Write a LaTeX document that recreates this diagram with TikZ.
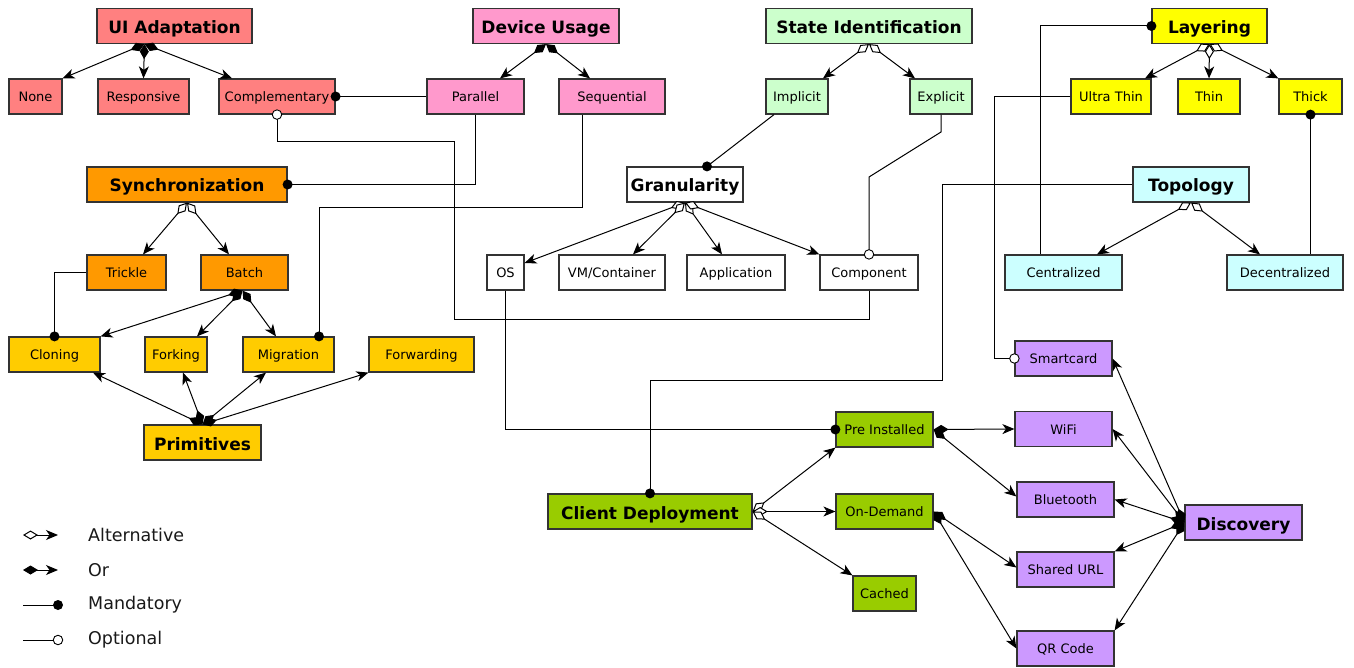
\documentclass[tikz,border=0pt]{standalone}
\usepackage{fontspec}
\setmainfont{DejaVu Sans}
\usetikzlibrary{arrows.meta,calc}
\definecolor{cUI}{HTML}{FF8080}
\definecolor{cDU}{HTML}{FF99CC}
\definecolor{cSI}{HTML}{CCFFCC}
\definecolor{cLY}{HTML}{FFFF00}
\definecolor{cSY}{HTML}{FF9900}
\definecolor{cPR}{HTML}{FFCC00}
\definecolor{cTP}{HTML}{CCFFFF}
\definecolor{cDS}{HTML}{CC99FF}
\definecolor{cCD}{HTML}{99CC00}
\begin{document}
\begin{tikzpicture}[x=1pt,y=-1pt,
  box/.style={draw=black!80, line width=1.2pt, inner sep=0pt, minimum height=35pt, text height=11pt, text depth=0.6pt, font=\fontsize{13}{15}\selectfont, text=black},
  head/.style={box, text height=16pt, text depth=1pt, font=\fontsize{17}{20}\selectfont\bfseries},
  conn/.style={line width=1pt, draw=black},
  alt/.style={conn, {Diamond[length=15pt,width=9pt,fill=white]}-{Stealth[length=12pt,width=10pt,inset=3.5pt]}},
  orr/.style={conn, {Diamond[length=15pt,width=9pt]}-{Stealth[length=12pt,width=10pt,inset=3.5pt]}},
  mdot/.style={circle, fill=black, inner sep=0pt, minimum size=10pt},
  odot/.style={circle, draw=black, fill=white, line width=0.9pt, inner sep=0pt, minimum size=9.5pt},
  leg/.style={font=\fontsize{17.5}{20}\selectfont, anchor=west, inner sep=0pt, text=black!90}
]
\fill[white] (0,0) rectangle (1354,668);
\useasboundingbox (0,0) rectangle (1354,668);

% nodes
\node[head, fill=cUI, minimum width=155pt] (ui) at (174.5,26) {UI Adaptation};
\node[box, fill=cUI, minimum width=53pt] (none) at (35.5,96.5) {None};
\node[box, fill=cUI, minimum width=91pt] (resp) at (143.5,96.5) {Responsive};
\node[box, fill=cUI, minimum width=116pt] (compl) at (277,96.5) {Complementary};
\node[head, fill=cDU, minimum width=146pt] (du) at (546,26) {Device Usage};
\node[box, fill=cDU, minimum width=97pt] (par) at (475.5,96.5) {Parallel};
\node[box, fill=cDU, minimum width=106pt] (seq) at (612,96.5) {Sequential};
\node[head, fill=cSI, minimum width=206pt] (si) at (869,26) {State Identification};
\node[box, fill=cSI, minimum width=62pt] (impl) at (797,96.5) {Implicit};
\node[box, fill=cSI, minimum width=62pt] (expl) at (941,96.5) {Explicit};
\node[head, fill=cLY, minimum width=115pt] (lay) at (1209.5,26) {Layering};
\node[box, fill=cLY, minimum width=80pt] (ut) at (1111,96.5) {Ultra Thin};
\node[box, fill=cLY, minimum width=62pt] (thin) at (1209,96.5) {Thin};
\node[box, fill=cLY, minimum width=63pt] (thick) at (1310.5,96.5) {Thick};
\node[head, fill=cSY, minimum width=200pt] (sync) at (187,184.5) {Synchronization};
\node[box, fill=cSY, minimum width=79pt] (trk) at (126.5,272.5) {Trickle};
\node[box, fill=cSY, minimum width=87pt] (batch) at (244.5,272.5) {Batch};
\node[box, fill=cPR, minimum width=91pt] (clon) at (54.5,354.5) {Cloning};
\node[box, fill=cPR, minimum width=62pt] (fork) at (176,354.5) {Forking};
\node[box, fill=cPR, minimum width=91pt] (mig) at (288.5,354.5) {Migration};
\node[box, fill=cPR, minimum width=105pt] (fwd) at (421.5,354.5) {Forwarding};
\node[head, fill=cPR, minimum width=117pt] (prim) at (202.5,442.5) {Primitives};
\node[head, fill=white, minimum width=116pt] (gran) at (685,184.5) {Granularity};
\node[box, fill=white, minimum width=37pt] (os) at (505.5,272.5) {OS};
\node[box, fill=white, minimum width=106pt] (vm) at (612,272.5) {VM/Container};
\node[box, fill=white, minimum width=98pt] (app) at (736,272.5) {Application};
\node[box, fill=white, minimum width=98pt] (compo) at (869,272.5) {Component};
\node[head, fill=cTP, minimum width=116pt] (topo) at (1191,184.5) {Topology};
\node[box, fill=cTP, minimum width=117pt] (cent) at (1063.5,272.5) {Centralized};
\node[box, fill=cTP, minimum width=116pt] (dec) at (1285,272.5) {Decentralized};
\node[box, fill=cDS, minimum width=97pt] (smart) at (1063.5,358.5) {Smartcard};
\node[box, fill=cDS, minimum width=97pt] (wifi) at (1063.5,429) {WiFi};
\node[box, fill=cDS, minimum width=97pt] (blue) at (1065.5,499.5) {Bluetooth};
\node[box, fill=cDS, minimum width=97pt] (surl) at (1065.5,569.5) {Shared URL};
\node[box, fill=cDS, minimum width=97pt] (qr) at (1065.5,648.5) {QR Code};
\node[head, fill=cDS, minimum width=117pt] (disc) at (1243.5,522.5) {Discovery};
\node[box, fill=cCD, minimum width=97pt] (pre) at (884.5,429.5) {Pre Installed};
\node[box, fill=cCD, minimum width=97pt] (od) at (884.5,511.5) {On-Demand};
\node[box, fill=cCD, minimum width=63pt] (cached) at (884.5,593.5) {Cached};
\node[head, fill=cCD, minimum width=204pt] (cd) at (650,511.5) {Client Deployment};

% mandatory / optional links
\draw[conn] (compl.east) node[mdot]{} -- (par.west);
\coordinate (k1) at (454,142);
\coordinate (k2) at (454,319);
\draw[conn] (compl.south) node[odot]{} |- (k1) -- (k2) -| (compo.south);
\draw[conn] (sync.east) node[mdot]{} -| (par.south);
\coordinate (k3) at (319,208);
\draw[conn] ([xshift=-30pt]seq.south) |- (k3) -- ([xshift=30.5pt]mig.north) node[mdot]{};
\draw[conn] ([xshift=-23pt]impl.south) -- ([xshift=22pt]gran.north) node[mdot]{};
\coordinate (k4) at (941,132);
\coordinate (k5) at (869,177);
\draw[conn] (expl.south) -- (k4) -- (k5) -- (compo.north) node[odot]{};
\draw[conn] (os.south) |- (pre.west) node[mdot]{};
\coordinate (k6) at (942,380);
\draw[conn] (topo.west) -| (k6) -| (cd.north) node[mdot]{};
\coordinate (k7) at (994,358.5);
\draw[conn] (ut.west) -| (k7) -- (smart.west) node[odot]{};
\draw[conn] (lay.west) node[mdot]{} -| ([xshift=-23.5pt]cent.north);
\draw[conn] (thick.south) node[mdot]{} -- (thick.south |- dec.north);
\draw[conn] (trk.west) -| (clon.north) node[mdot]{};

% feature groups
\coordinate (uiS) at ([xshift=-30pt]ui.south);
\draw[orr] (uiS) -- (none.north east);
\draw[orr] (uiS) -- (resp.north);
\draw[orr] (uiS) -- ([xshift=-45pt]compl.north);

\draw[orr] (du.south) -- ([xshift=24.5pt]par.north);
\draw[orr] (du.south) -- ([xshift=-22pt]seq.north);

\draw[alt] (si.south) -- ([xshift=26pt]impl.north);
\draw[alt] (si.south) -- ([xshift=-26pt]expl.north);

\draw[alt] (lay.south) -- ([xshift=34pt]ut.north);
\draw[alt] (lay.south) -- (thin.north);
\draw[alt] (lay.south) -- (thick.north west);

\draw[alt] (sync.south) -- ([xshift=16.5pt]trk.north);
\draw[alt] (sync.south) -- ([xshift=-15.5pt]batch.north);

\coordinate (bS) at ([xshift=-2pt]batch.south);
\draw[orr] (bS) -- (clon.north east);
\draw[orr] (bS) -- ([xshift=21pt]fork.north);
\draw[orr] (bS) -- ([xshift=-12.5pt]mig.north);

\draw[orr] (prim.north) -- ([xshift=38.5pt]clon.south);
\draw[orr] (prim.north) -- ([xshift=7pt]fork.south);
\draw[orr] (prim.north) -- ([xshift=-22.5pt]mig.south);
\draw[orr] (prim.north) -- (fwd.south west);

\draw[alt] (gran.south) -- ([yshift=9.5pt]os.east);
\draw[alt] (gran.south) -- ([xshift=21pt]vm.north);
\draw[alt] (gran.south) -- ([xshift=-14pt]app.north);
\draw[alt] (gran.south) -- (compo.north west);

\draw[alt] (topo.south) -- ([xshift=33.5pt]cent.north);
\draw[alt] (topo.south) -- ([xshift=-25pt]dec.north);

\draw[alt] (cd.east) -- (pre.south west);
\draw[alt] (cd.east) -- (od.west);
\draw[alt] (cd.east) -- (cached.north west);

\draw[orr] (pre.east) -- (wifi.west);
\draw[orr] (pre.east) -- ([yshift=3pt]blue.west);
\draw[orr] (od.east) -- ([yshift=2pt]surl.west);
\draw[orr] (od.east) -- (qr.west);

\draw[orr] (disc.west) -- (smart.east);
\draw[orr] (disc.west) -- (wifi.east);
\draw[orr] (disc.west) -- (blue.east);
\draw[orr] (disc.west) -- (surl.north east);
\draw[orr] (disc.west) -- (qr.north east);

% legend
\coordinate (l1a) at (23,535); \coordinate (l1b) at (58,535);
\coordinate (l2a) at (23,570); \coordinate (l2b) at (58,570);
\coordinate (l3a) at (23,605); \coordinate (l3b) at (58,605);
\coordinate (l4a) at (23,640); \coordinate (l4b) at (58,640);
\draw[alt] (l1a) -- (l1b);
\draw[orr] (l2a) -- (l2b);
\draw[conn] (l3a) -- (l3b) node[mdot]{};
\draw[conn] (l4a) -- (l4b) node[odot]{};
\node[leg] (lt1) at (88,535) {Alternative};
\node[leg] (lt2) at (88,570) {Or};
\node[leg] (lt3) at (88,605) {Mandatory};
\node[leg] (lt4) at (88,640) {Optional};
\end{tikzpicture}
\end{document}
